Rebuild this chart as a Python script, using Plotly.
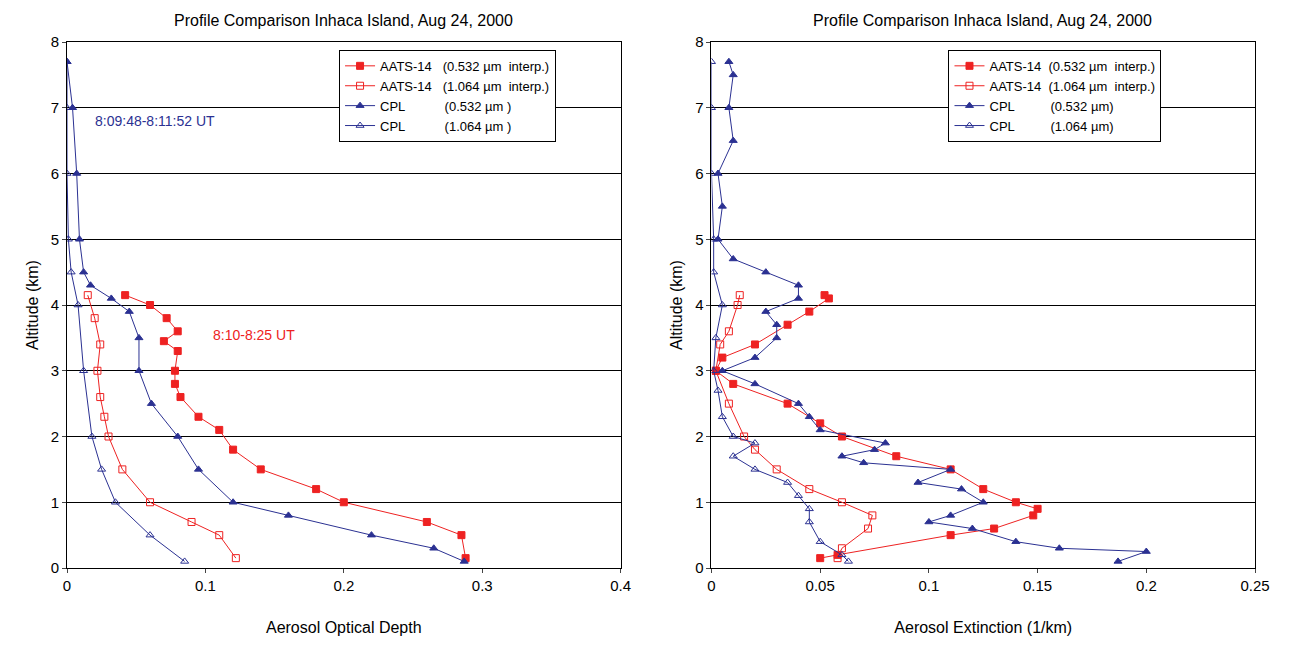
import plotly.graph_objects as go

# ---- left panel: optical depth ----
aod_aats532_alt = [0.15, 0.5, 0.7, 1.0, 1.2, 1.5, 1.8, 2.1, 2.3, 2.6, 2.8, 3.0, 3.3, 3.45, 3.6, 3.8, 4.0, 4.15]
aod_aats532 = [0.288, 0.285, 0.26, 0.20, 0.18, 0.14, 0.12, 0.11, 0.095, 0.082, 0.078, 0.078, 0.08, 0.07, 0.08, 0.072, 0.06, 0.042]
aod_aats1064_alt = [0.15, 0.5, 0.7, 1.0, 1.5, 2.0, 2.3, 2.6, 3.0, 3.4, 3.8, 4.15]
aod_aats1064 = [0.122, 0.11, 0.09, 0.06, 0.04, 0.03, 0.027, 0.024, 0.022, 0.024, 0.02, 0.015]
aod_cpl532_alt = [0.1, 0.3, 0.5, 0.8, 1.0, 1.5, 2.0, 2.5, 3.0, 3.5, 3.9, 4.1, 4.3, 4.5, 5.0, 6.0, 7.0, 7.7]
aod_cpl532 = [0.287, 0.265, 0.22, 0.16, 0.12, 0.095, 0.08, 0.061, 0.052, 0.052, 0.045, 0.032, 0.017, 0.012, 0.009, 0.007, 0.004, 0.0]
aod_cpl1064_alt = [0.1, 0.5, 1.0, 1.5, 2.0, 3.0, 4.0, 4.5, 5.0, 6.0, 7.0, 7.7]
aod_cpl1064 = [0.085, 0.06, 0.035, 0.025, 0.018, 0.012, 0.008, 0.003, 0.001, 0.0, 0.0, 0.0]

# ---- right panel: extinction ----
ext_aats532_alt = [0.15, 0.2, 0.5, 0.6, 0.8, 0.9, 1.0, 1.2, 1.5, 1.7, 2.0, 2.2, 2.5, 2.8, 3.0, 3.2, 3.4, 3.7, 3.9, 4.1, 4.15]
ext_aats532 = [0.05, 0.058, 0.11, 0.13, 0.148, 0.15, 0.14, 0.125, 0.11, 0.085, 0.06, 0.05, 0.035, 0.01, 0.002, 0.005, 0.02, 0.035, 0.045, 0.054, 0.052]
ext_aats1064_alt = [0.15, 0.3, 0.6, 0.8, 1.0, 1.2, 1.5, 1.8, 2.0, 2.5, 3.0, 3.4, 3.6, 4.0, 4.15]
ext_aats1064 = [0.058, 0.06, 0.072, 0.074, 0.06, 0.045, 0.03, 0.02, 0.015, 0.008, 0.002, 0.004, 0.008, 0.012, 0.013]
ext_cpl532_alt = [0.1, 0.25, 0.3, 0.4, 0.6, 0.7, 0.8, 1.0, 1.2, 1.3, 1.5, 1.6, 1.7, 1.8, 1.9, 2.1, 2.3, 2.5, 2.8, 3.0, 3.2, 3.5, 3.7, 3.9, 4.1, 4.3, 4.5, 4.7, 5.0, 5.5, 6.0, 6.5, 7.0, 7.5, 7.7]
ext_cpl532 = [0.187, 0.2, 0.16, 0.14, 0.12, 0.1, 0.11, 0.125, 0.115, 0.095, 0.11, 0.07, 0.06, 0.075, 0.08, 0.05, 0.045, 0.04, 0.02, 0.005, 0.02, 0.03, 0.03, 0.025, 0.04, 0.04, 0.025, 0.01, 0.003, 0.005, 0.003, 0.01, 0.008, 0.01, 0.008]
ext_cpl1064_alt = [0.1, 0.2, 0.4, 0.7, 0.9, 1.1, 1.3, 1.5, 1.7, 1.9, 2.0, 2.3, 2.7, 3.0, 3.5, 4.0, 4.5, 5.0, 6.0, 7.0, 7.7]
ext_cpl1064 = [0.063, 0.06, 0.05, 0.045, 0.045, 0.04, 0.035, 0.02, 0.01, 0.02, 0.01, 0.005, 0.003, 0.001, 0.002, 0.005, 0.001, 0.001, 0.0, 0.0, 0.0]

RED = '#ee2222'
BLUE = '#2b3192'
TITLE = 'Profile Comparison Inhaca Island, Aug 24, 2000'

fig = go.Figure()

def add(x, y, name, color, symbol, xa, ya, legend):
    fig.add_trace(go.Scatter(
        x=x, y=y, name=name, mode='lines+markers',
        line=dict(color=color, width=1),
        marker=dict(symbol=symbol, size=7, color=color, line=dict(color=color, width=1)),
        xaxis=xa, yaxis=ya, legend=legend,
    ))

add(aod_aats532, aod_aats532_alt, 'AATS-14   (0.532 µm  interp.)', RED, 'square', 'x', 'y', 'legend')
add(aod_aats1064, aod_aats1064_alt, 'AATS-14   (1.064 µm  interp.)', RED, 'square-open', 'x', 'y', 'legend')
add(aod_cpl532, aod_cpl532_alt, 'CPL           (0.532 µm )', BLUE, 'triangle-up', 'x', 'y', 'legend')
add(aod_cpl1064, aod_cpl1064_alt, 'CPL           (1.064 µm )', BLUE, 'triangle-up-open', 'x', 'y', 'legend')

add(ext_aats532, ext_aats532_alt, 'AATS-14  (0.532 µm  interp.)', RED, 'square', 'x2', 'y2', 'legend2')
add(ext_aats1064, ext_aats1064_alt, 'AATS-14  (1.064 µm  interp.)', RED, 'square-open', 'x2', 'y2', 'legend2')
add(ext_cpl532, ext_cpl532_alt, 'CPL          (0.532 µm)', BLUE, 'triangle-up', 'x2', 'y2', 'legend2')
add(ext_cpl1064, ext_cpl1064_alt, 'CPL          (1.064 µm)', BLUE, 'triangle-up-open', 'x2', 'y2', 'legend2')

ax = dict(showline=True, linecolor='black', linewidth=1, ticks='outside', ticklen=4,
          zeroline=False, mirror=True, tickfont=dict(size=15), automargin=False)
yax = dict(ax, range=[0, 8], dtick=1, showgrid=True, gridcolor='black', gridwidth=1,
           title=dict(text='Altitude (km)', font=dict(size=16), standoff=8))

leg = dict(bgcolor='white', bordercolor='black', borderwidth=1, font=dict(size=13),
           xanchor='left', yanchor='top', tracegroupgap=0, itemwidth=30)

xt = dict(font=dict(size=16), standoff=28)

fig.update_layout(
    width=1299, height=646, margin=dict(l=59, r=52, t=34, b=86),
    paper_bgcolor='white', plot_bgcolor='white',
    font=dict(family='Liberation Sans, Arial', color='black'),
    xaxis=dict(ax, domain=[0, 0.466], range=[0, 0.4], dtick=0.1, showgrid=False,
               title=dict(xt, text='Aerosol Optical Depth')),
    yaxis=dict(yax, domain=[0, 1], anchor='x'),
    xaxis2=dict(ax, domain=[0.5425, 1], range=[0, 0.25], dtick=0.05, showgrid=False, anchor='y2',
                title=dict(xt, text='Aerosol Extinction (1/km)')),
    yaxis2=dict(yax, domain=[0, 1], anchor='x2'),
    legend=dict(leg, x=0.229, y=0.985),
    legend2=dict(leg, x=0.742, y=0.985),
    annotations=[
        dict(text=TITLE, x=0.233, y=1, yshift=32, xref='paper', yref='paper', xanchor='center',
             showarrow=False, font=dict(size=16)),
        dict(text=TITLE, x=0.771, y=1, yshift=32, xref='paper', yref='paper', xanchor='center',
             showarrow=False, font=dict(size=16)),
        dict(text='8:09:48-8:11:52 UT', x=0.019, y=6.8, xref='x', yref='y', xanchor='left',
             showarrow=False, font=dict(size=14, color=BLUE)),
        dict(text='8:10-8:25 UT', x=0.104, y=3.55, xref='x', yref='y', xanchor='left',
             showarrow=False, font=dict(size=14, color=RED)),
    ],
)

fig.write_html('out.html')
